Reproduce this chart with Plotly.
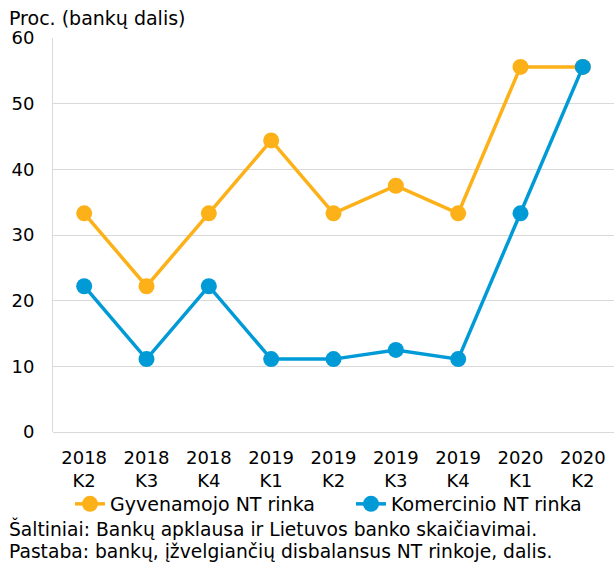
import plotly.graph_objects as go

categories = ["2018<br>K2", "2018<br>K3", "2018<br>K4", "2019<br>K1", "2019<br>K2",
              "2019<br>K3", "2019<br>K4", "2020<br>K1", "2020<br>K2"]
gyvenamojo = [33.3, 22.2, 33.3, 44.4, 33.3, 37.5, 33.3, 55.6, 55.6]
komercinio = [22.2, 11.1, 22.2, 11.1, 11.1, 12.5, 11.1, 33.3, 55.6]

FONT = "Verdana, DejaVu Sans, sans-serif"
W, H = 614, 563
L, R, T, B = 53, 0, 38, 131
pw, ph = W - L - R, H - T - B

def px(xp):
    return (xp - L) / pw

def py(yp):
    return (H - B - yp) / ph

fig = go.Figure()
fig.add_trace(go.Scatter(x=categories, y=gyvenamojo, name="Gyvenamojo NT rinka",
                         mode="lines+markers",
                         line=dict(color="#FDB119", width=3.5),
                         marker=dict(size=16, color="#FDB119")))
fig.add_trace(go.Scatter(x=categories, y=komercinio, name="Komercinio NT rinka",
                         mode="lines+markers",
                         line=dict(color="#009AD7", width=3.5),
                         marker=dict(size=16, color="#009AD7")))

fig.update_layout(
    width=W, height=H,
    margin=dict(l=L, r=R, t=T, b=B, autoexpand=False),
    plot_bgcolor="white", paper_bgcolor="white",
    font=dict(family=FONT, size=18, color="#000000"),
    xaxis=dict(showgrid=False, showline=False, ticks="", tickfont=dict(size=18),
               range=[-0.5, 8.5], automargin=False, ticklabelstandoff=13),
    yaxis=dict(range=[0, 60], dtick=10, showgrid=True, gridcolor="#D9D9D9",
               gridwidth=1, showline=True, linecolor="#D9D9D9", linewidth=1,
               zeroline=True, zerolinecolor="#D9D9D9", zerolinewidth=1,
               ticks="", ticklabelstandoff=14, tickfont=dict(size=18),
               automargin=False),
    showlegend=True,
    legend=dict(orientation="h", x=px(70), xanchor="left", y=py(504),
                yanchor="middle", font=dict(size=19), entrywidth=236,
                entrywidthmode="pixels",
                bgcolor="rgba(0,0,0,0)", traceorder="normal"),
    annotations=[
        dict(text="Proc. (bankų dalis)", xref="paper", yref="paper",
             x=px(7), y=py(18), xanchor="left", yanchor="middle",
             showarrow=False, font=dict(size=19)),
        dict(text="Šaltiniai: Bankų apklausa ir Lietuvos banko skaičiavimai.",
             xref="paper", yref="paper", x=px(7), y=py(528),
             xanchor="left", yanchor="middle", showarrow=False, font=dict(size=18.7)),
        dict(text="Pastaba: bankų, įžvelgiančių disbalansus NT rinkoje, dalis.",
             xref="paper", yref="paper", x=px(7), y=py(551),
             xanchor="left", yanchor="middle", showarrow=False, font=dict(size=18.7)),
    ],
)

fig.write_html("out.html", config={"displayModeBar": False},
               post_script="document.body.style.margin='0';document.body.style.overflow='hidden';")
